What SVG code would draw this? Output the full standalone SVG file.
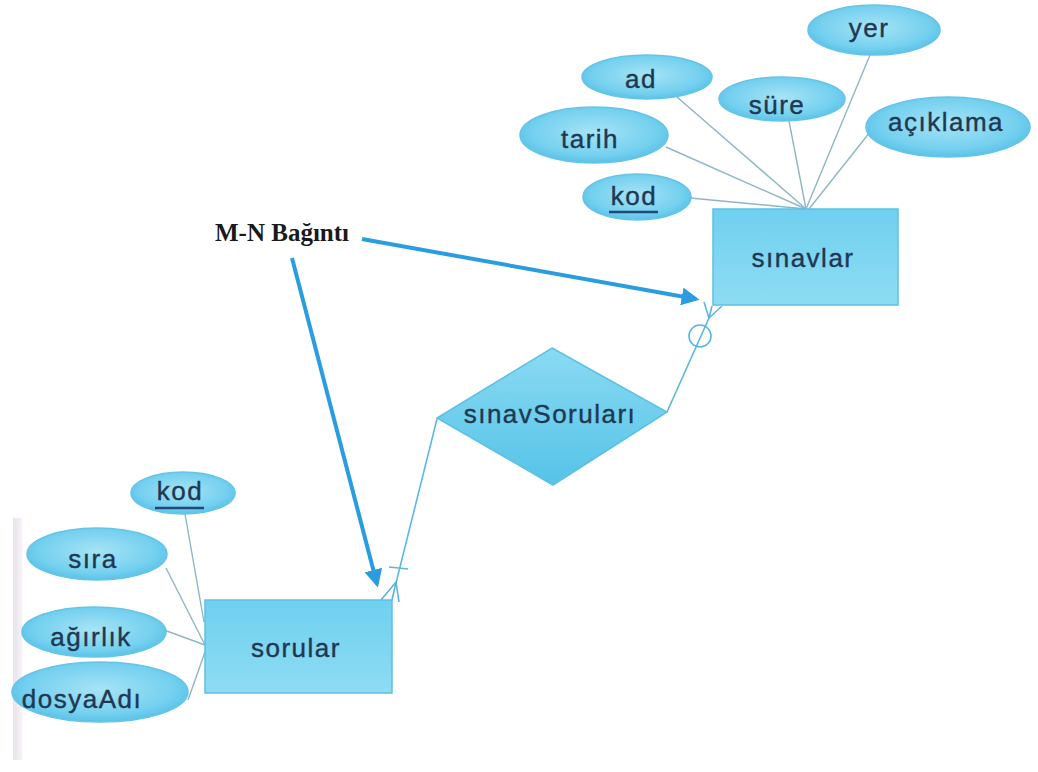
<svg xmlns="http://www.w3.org/2000/svg" width="1038" height="772" viewBox="0 0 1038 772">
  <defs>
    <radialGradient id="attrFill" cx="50%" cy="45%" r="60%">
      <stop offset="0%" stop-color="#a6e4f5"/>
      <stop offset="70%" stop-color="#74d0ef"/>
      <stop offset="100%" stop-color="#4fbde5"/>
    </radialGradient>
    <linearGradient id="entFill" x1="0" y1="0" x2="0" y2="1">
      <stop offset="0%" stop-color="#6fd0ef"/>
      <stop offset="100%" stop-color="#8edcf3"/>
    </linearGradient>
    <linearGradient id="relFill" x1="0" y1="0" x2="0" y2="1">
      <stop offset="0%" stop-color="#8adaf2"/>
      <stop offset="100%" stop-color="#55c3e8"/>
    </linearGradient>
    <linearGradient id="edgeFill" x1="0" y1="0" x2="1" y2="0">
      <stop offset="0%" stop-color="#e9e2ea"/>
      <stop offset="100%" stop-color="#f5f2f6"/>
    </linearGradient>
    <marker id="arrowHead" viewBox="0 0 10 10" refX="8" refY="5" markerWidth="4.5" markerHeight="4.5" orient="auto" markerUnits="strokeWidth">
      <path d="M0,0 L10,5 L0,10 z" fill="#2a9de0"/>
    </marker>
  </defs>
  <style>
    .attr { fill: url(#attrFill); stroke: #66c4e6; stroke-width: 1.5; }
    .entity { fill: url(#entFill); stroke: #5cc0e4; stroke-width: 1.5; }
    .rel { fill: url(#relFill); stroke: #5cc0e4; stroke-width: 1.5; }
    .lbl { font-family: "Liberation Sans", Arial, sans-serif; font-size: 26px; letter-spacing: 1.5px; fill: #1f3852; stroke: #1f3852; stroke-width: 0.4; text-anchor: middle; }
    .attrLine { stroke: #8fb6c4; stroke-width: 1.4; fill: none; }
    .relLine { stroke: #5ab6de; stroke-width: 1.6; fill: none; }
    .note { stroke: #2a9de0; stroke-width: 4; fill: none; }
    .pk { stroke: #24477a; stroke-width: 2.5; }
  </style>

  <rect width="1038" height="772" fill="#ffffff"/>
  <!-- page edge shading at the lower left -->
  <rect x="13" y="518" width="9" height="242" fill="url(#edgeFill)"/>

  <!-- attribute and relationship lines -->
  <g id="connectors">
    <line class="attrLine" x1="690" y1="198" x2="806" y2="209"/>
    <line class="attrLine" x1="666" y1="147" x2="806" y2="209"/>
    <line class="attrLine" x1="677" y1="97" x2="806" y2="209"/>
    <line class="attrLine" x1="789" y1="121" x2="806" y2="209"/>
    <line class="attrLine" x1="870" y1="55" x2="806" y2="209"/>
    <line class="attrLine" x1="870" y1="132" x2="809" y2="209"/>

    <line class="attrLine" x1="185" y1="514" x2="204" y2="622"/>
    <line class="attrLine" x1="166" y1="568" x2="205" y2="645"/>
    <line class="attrLine" x1="164" y1="630" x2="205" y2="645"/>
    <line class="attrLine" x1="188" y1="700" x2="205" y2="652"/>

    <!-- sınavSoruları to sınavlar: zero-or-many -->
    <polyline class="relLine" points="667,412 709,318"/>
    <circle class="relLine" cx="700" cy="336" r="11" fill="#ffffff"/>
    <line class="relLine" x1="709" y1="318" x2="704" y2="302"/>
    <line class="relLine" x1="709" y1="318" x2="712" y2="306"/>
    <line class="relLine" x1="709" y1="318" x2="722" y2="306"/>

    <!-- sınavSoruları to sorular: one-or-many -->
    <polyline class="relLine" points="437,419 396,583"/>
    <line class="relLine" x1="389" y1="567" x2="408" y2="569"/>
    <line class="relLine" x1="396" y1="582" x2="381" y2="600"/>
    <line class="relLine" x1="396" y1="582" x2="392" y2="600"/>
    <line class="relLine" x1="396" y1="582" x2="399" y2="602"/>

    <!-- M-N annotation arrows -->
    <line class="note" x1="362" y1="239" x2="696" y2="299" marker-end="url(#arrowHead)"/>
    <line class="note" x1="292" y1="258" x2="377" y2="584" marker-end="url(#arrowHead)"/>
  </g>

  <g id="mn-label">
    <text x="215" y="241" font-family="Liberation Serif, Times New Roman, serif" font-size="25" font-weight="bold" fill="#1a1a1a">M-N Bağıntı</text>
  </g>

  <!-- sınavlar entity and attributes -->
  <g id="sinavlar">
    <rect class="entity" x="713" y="209" width="185" height="96"/>
    <text class="lbl" x="803" y="267">sınavlar</text>
  </g>
  <g id="sinavlar-yer">
    <ellipse class="attr" cx="874" cy="30" rx="66" ry="25"/>
    <text class="lbl" x="869" y="37">yer</text>
  </g>
  <g id="sinavlar-ad">
    <ellipse class="attr" cx="647" cy="77" rx="65" ry="22"/>
    <text class="lbl" x="641" y="88">ad</text>
  </g>
  <g id="sinavlar-sure">
    <ellipse class="attr" cx="782" cy="99" rx="63" ry="22"/>
    <text class="lbl" x="777" y="114">süre</text>
  </g>
  <g id="sinavlar-aciklama">
    <ellipse class="attr" cx="948" cy="127" rx="82" ry="30"/>
    <text class="lbl" x="946" y="131">açıklama</text>
  </g>
  <g id="sinavlar-tarih">
    <ellipse class="attr" cx="594" cy="135" rx="74" ry="28"/>
    <text class="lbl" x="590" y="148">tarih</text>
  </g>
  <g id="sinavlar-kod">
    <ellipse class="attr" cx="637" cy="197" rx="54" ry="23"/>
    <text class="lbl" x="634" y="205">kod</text>
    <line class="pk" x1="609" y1="212" x2="658" y2="212"/>
  </g>

  <!-- relationship -->
  <g id="sinavSorulari">
    <polygon class="rel" points="552,348 667,412 553,485 437,418"/>
    <text class="lbl" x="550" y="423">sınavSoruları</text>
  </g>

  <!-- sorular entity and attributes -->
  <g id="sorular">
    <rect class="entity" x="205" y="600" width="187" height="93"/>
    <text class="lbl" x="296" y="657">sorular</text>
  </g>
  <g id="sorular-kod">
    <ellipse class="attr" cx="183" cy="493" rx="52" ry="21"/>
    <text class="lbl" x="180" y="500">kod</text>
    <line class="pk" x1="155" y1="508" x2="204" y2="508"/>
  </g>
  <g id="sorular-sira">
    <ellipse class="attr" cx="97" cy="554" rx="70" ry="26"/>
    <text class="lbl" x="93" y="568">sıra</text>
  </g>
  <g id="sorular-agirlik">
    <ellipse class="attr" cx="94" cy="632" rx="72" ry="25"/>
    <text class="lbl" x="91" y="646">ağırlık</text>
  </g>
  <g id="sorular-dosyaAdi">
    <ellipse class="attr" cx="100" cy="692" rx="88" ry="30"/>
    <text class="lbl" x="82" y="708">dosyaAdı</text>
  </g>
</svg>
